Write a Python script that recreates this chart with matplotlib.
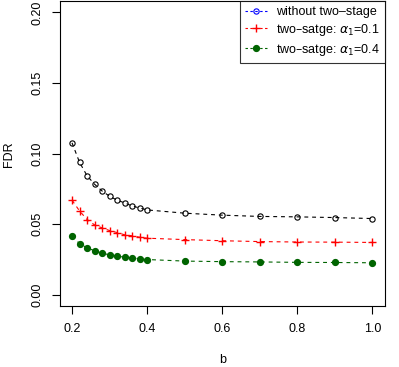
import matplotlib

matplotlib.use("Agg")
import matplotlib.pyplot as plt

plt.rcParams["font.family"] = ["Liberation Sans", "DejaVu Sans"]
plt.rcParams["mathtext.fontset"] = "dejavusans"

# b grid and FDR values
b = [0.20, 0.22, 0.24, 0.26, 0.28, 0.30, 0.32, 0.34, 0.36, 0.38, 0.40,
     0.5, 0.6, 0.7, 0.8, 0.9, 1.0]
fdr_one_stage = [0.1077, 0.0939, 0.0844, 0.0784, 0.0736, 0.0699, 0.0671, 0.0652,
                 0.0630, 0.0616, 0.0602, 0.0579, 0.0565, 0.0556, 0.0553, 0.0548, 0.0541]
fdr_alpha01 = [0.0671, 0.0595, 0.0534, 0.0496, 0.0475, 0.0456, 0.0442, 0.0426,
               0.0419, 0.0409, 0.0402, 0.0392, 0.0384, 0.0378, 0.0375, 0.0374, 0.0372]
fdr_alpha04 = [0.0416, 0.0364, 0.0334, 0.0313, 0.0296, 0.0284, 0.0275, 0.0268,
               0.0263, 0.0256, 0.0251, 0.0240, 0.0236, 0.0234, 0.0231, 0.0230, 0.0228]

labels = ["without two\u2013stage",
          "two\u2013satge: " + r"$\alpha_1$" + "=0.1",
          "two\u2013satge: " + r"$\alpha_1$" + "=0.4"]

fig = plt.figure(figsize=(3.99, 3.67), dpi=100)
ax = fig.add_axes([0.1504, 0.1654, 0.8133, 0.8316])

dash = (3.5, 3.5)
ax.plot(b, fdr_one_stage, color="black", lw=0.8, dashes=dash,
        marker="o", ms=3.8, mfc="none", mec="black", mew=0.8)
ax.plot(b, fdr_alpha01, color="red", lw=0.8, dashes=dash,
        marker="+", ms=5.2, mew=1.0)
ax.plot(b, fdr_alpha04, color="#006400", lw=0.8, dashes=dash,
        marker="o", ms=4.2, mfc="#006400", mec="#006400")

ax.set_xlim(0.168, 1.032)
ax.set_ylim(-0.008, 0.208)
ax.set_xticks([0.2, 0.4, 0.6, 0.8, 1.0])
ax.set_xticklabels(["0.2", "0.4", "0.6", "0.8", "1.0"])
ax.set_yticks([0.0, 0.05, 0.10, 0.15, 0.20])
ax.set_yticklabels(["0.00", "0.05", "0.10", "0.15", "0.20"], rotation=90, va="center")
ax.tick_params(direction="out", length=6, width=0.8, labelsize=9, pad=6)
for s in ax.spines.values():
    s.set_linewidth(0.8)
ax.set_xlabel("b", fontsize=9, labelpad=14)
ax.set_ylabel("FDR", fontsize=9, labelpad=12)

# legend handles (first entry drawn blue in the original legend)
h1, = ax.plot([], [], color="blue", lw=0.8, dashes=(2.2, 2.2), marker="o",
              ms=3.8, mfc="none", mec="blue", mew=0.8)
h2, = ax.plot([], [], color="red", lw=0.8, dashes=(2.2, 2.2), marker="+",
              ms=5.2, mew=1.0)
h3, = ax.plot([], [], color="#006400", lw=0.8, dashes=(2.2, 2.2), marker="o",
              ms=4.2, mfc="#006400", mec="#006400")
leg = ax.legend([h1, h2, h3], labels, loc="upper right", fontsize=9,
                frameon=True, fancybox=False, edgecolor="black",
                borderaxespad=0, handlelength=1.9, handletextpad=0.6,
                labelspacing=0.3, borderpad=0.4, numpoints=1)
leg.get_frame().set_linewidth(0.8)

fig.savefig("out.png", dpi=100)
